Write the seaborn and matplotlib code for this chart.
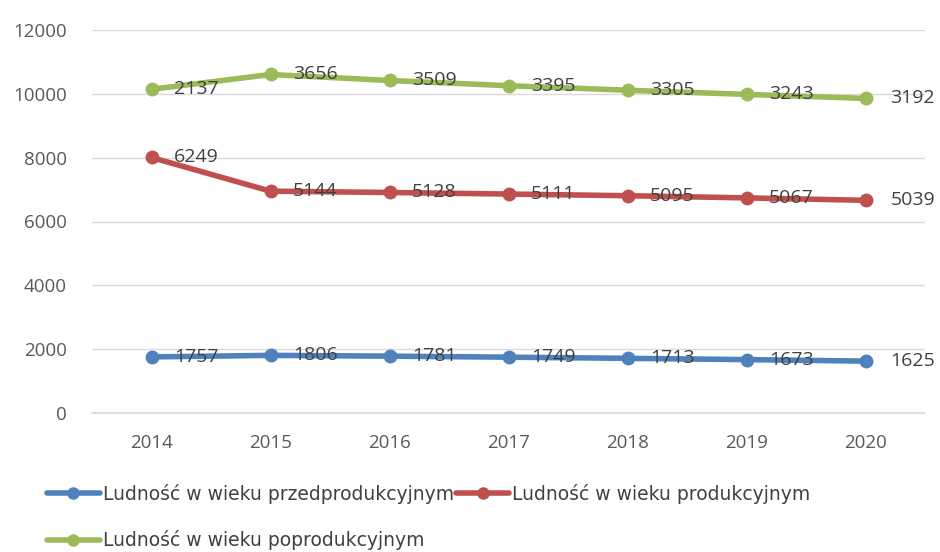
import numpy as np
import pandas as pd
import matplotlib
matplotlib.use("Agg")
import matplotlib.pyplot as plt
import seaborn as sns
from matplotlib.lines import Line2D

years = [2014, 2015, 2016, 2017, 2018, 2019, 2020]
przed = [1757, 1806, 1781, 1749, 1713, 1673, 1625]
prod = [6249, 5144, 5128, 5111, 5095, 5067, 5039]
poprod = [2137, 3656, 3509, 3395, 3305, 3243, 3192]
series_names = ["Ludność w wieku przedprodukcyjnym",
                "Ludność w wieku produkcyjnym",
                "Ludność w wieku poprodukcyjnym"]
colors = ["#4F81BD", "#C0504D", "#9BBB59"]
yticks = [0, 2000, 4000, 6000, 8000, 10000, 12000]

sns.set_theme(style="white")
plt.rcParams['font.family'] = ['Open Sans', 'DejaVu Sans']

raw = np.array([przed, prod, poprod], dtype=float)
stacked = np.cumsum(raw, axis=0)

rows = []
for i, name in enumerate(series_names):
    for j, y in enumerate(years):
        rows.append({"year": y, "value": stacked[i, j], "label": raw[i, j], "series": name})
df = pd.DataFrame(rows)

fig = plt.figure(figsize=(9.4, 5.52), dpi=100)
ax = fig.add_axes([92/940, (552-413)/552, (925-92)/940, (413-30)/552])

ax.grid(axis="y", color="#D9D9D9", linewidth=1)
ax.axhline(0, color="#D9D9D9", linewidth=1.2, clip_on=False, zorder=0.5)

sns.lineplot(data=df, x="year", y="value", hue="series", palette=colors,
             hue_order=series_names, marker="o", markersize=10, markeredgewidth=0,
             linewidth=4, ax=ax, legend=False)

for i, name in enumerate(series_names):
    for j, y in enumerate(years):
        off = 18 if j == len(years) - 1 else 16
        ax.annotate(f"{int(raw[i, j])}", (y, stacked[i, j]), xytext=(off, 0),
                    textcoords="offset points", ha="left", va="center",
                    fontsize=14, color="#404040")

ax.set_xlim(2013.5, 2020.5)
ax.set_ylim(0, 12000)
ax.set_yticks(yticks)
ax.set_xticks(years)
ax.set_xticklabels([str(y) for y in years])
ax.set_axisbelow(True)
for s in ax.spines.values():
    s.set_visible(False)
ax.tick_params(axis="both", length=0, labelsize=13.5, colors="#595959")
ax.tick_params(axis="y", pad=18)
ax.tick_params(axis="x", pad=15)
ax.set_xlabel("")
ax.set_ylabel("")

order = [0, 2, 1]
handles = [Line2D([0], [0], color=colors[k], linewidth=4, marker="o", markersize=9,
                  markeredgewidth=0) for k in order]
labels = [series_names[k] for k in order]
fig.legend(handles, labels, loc="upper left", bbox_to_anchor=(47/940, 1 - 484/552),
           ncol=2, frameon=False, prop={"family": "DejaVu Sans", "size": 13.5},
           handlelength=2.8, handletextpad=0.2, columnspacing=0.1,
           labelcolor="#404040", borderaxespad=0, borderpad=0, labelspacing=1.4)

fig.savefig("out.png", dpi=100)
